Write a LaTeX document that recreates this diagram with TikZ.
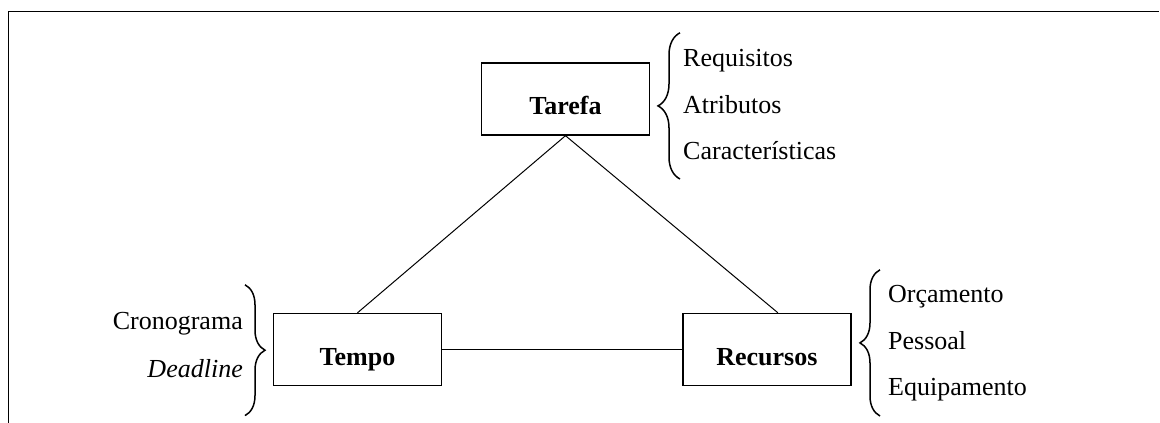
\documentclass[tikz,border=0pt]{standalone}
\usepackage{fontspec}
\setmainfont{Liberation Serif}
\usetikzlibrary{positioning,calc,decorations.pathreplacing}

\begin{document}
\begin{tikzpicture}[x=1pt,y=1pt,node distance=22pt,
						box/.style={rectangle,draw,line width=1.4pt,minimum width=168pt,minimum height=72pt,text height=34pt,text depth=2pt,font=\fontsize{26}{30}\selectfont\bfseries},
						item/.style={inner sep=0pt,text height=18pt,text depth=6pt,font=\fontsize{26}{30}\selectfont},
						chave/.style={draw,line width=1.5pt,decorate,decoration={brace,amplitude=#1}}]
		\useasboundingbox (0,0) rectangle (1160,423);
		\draw[line width=1pt] (8,0) -- (8,411) -- (1159,411);

		\node[box] (tempo) at (357.5,73.5) {Tempo};
		\node[box,right=240pt of tempo] (recursos) {Recursos};
		\node[box] (tarefa) at (565.5,324) {Tarefa};

		\node[item,anchor=west] (req) at (683,362) {Requisitos};
		\node[item,below=of req.south west,anchor=north west] (atr) {Atributos};
		\node[item,below=of atr.south west,anchor=north west] (carac) {Características};

		\node[item,anchor=west] (orc) at (888,126) {Orçamento};
		\node[item,below=of orc.south west,anchor=north west] (pess) {Pessoal};
		\node[item,below=of pess.south west,anchor=north west] (equip) {Equipamento};

		\node[item,anchor=east] (crono) at (243,99) {Cronograma};
		\node[item,below=23pt of crono.south east,anchor=north east] (dead) {\itshape Deadline};

		\draw[line width=1pt] (tarefa.south) -- (tempo.north);
		\draw[line width=1pt] (tarefa.south) -- ([xshift=11pt]recursos.north);
		\draw[line width=1pt] (tempo) -- (recursos);

		\draw[chave=22pt] ($(carac.south west)+(-3,-13)$) -- ($(req.north west)+(-3,16)$);
		\draw[chave=20pt] ($(equip.south west)+(-8,-14)$) -- ($(orc.north west)+(-8,15)$);
		\draw[chave=20pt] ($(crono.north east)+(2,27)$) -- ($(dead.south east)+(2,-32)$);
	\end{tikzpicture}
\end{document}
